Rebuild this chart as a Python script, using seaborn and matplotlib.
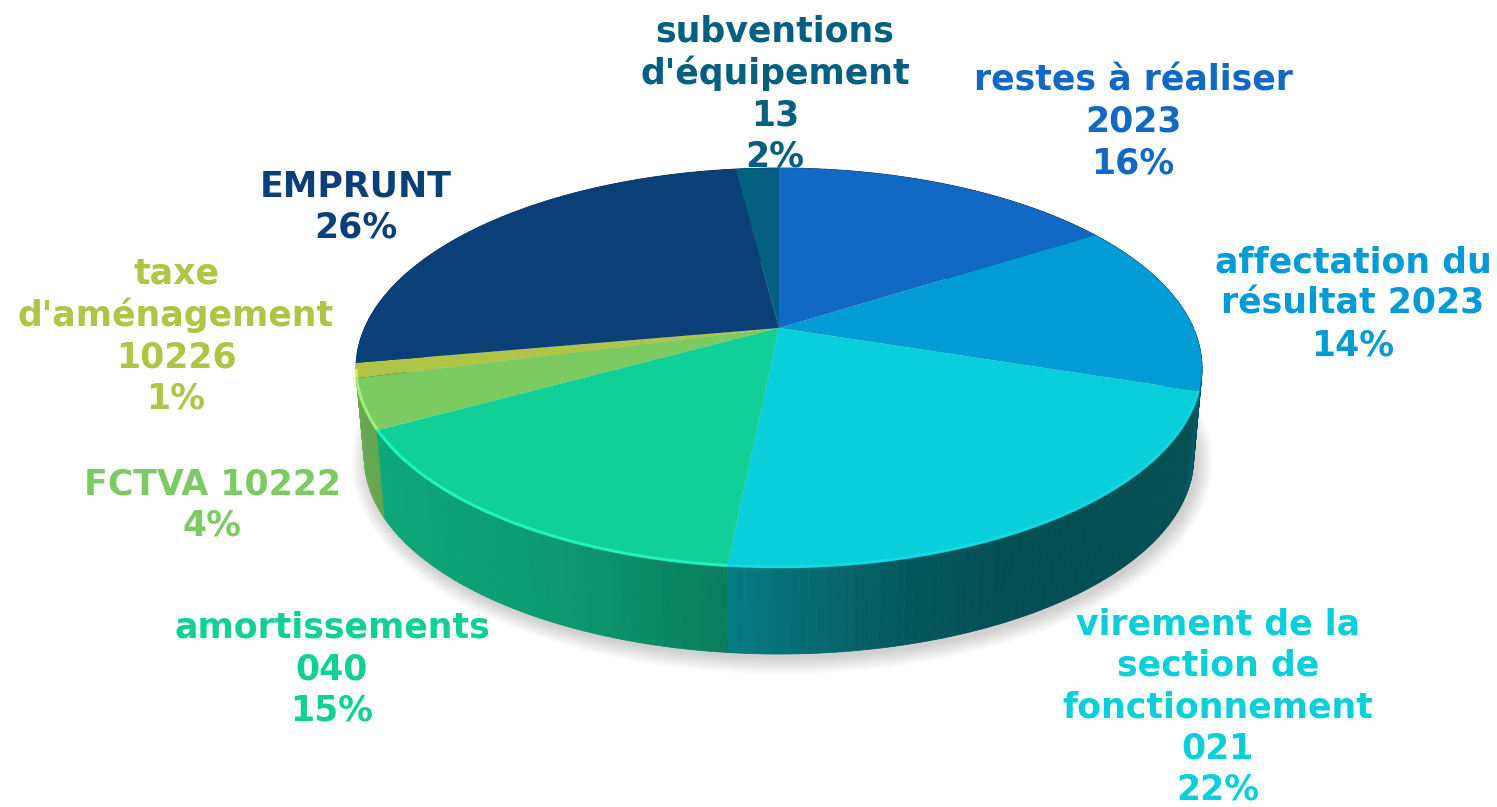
"""
Recettes d'investissement: camembert en perspective
"""

import numpy as np
import matplotlib
matplotlib.use("Agg")
import matplotlib.pyplot as plt
from matplotlib.transforms import Transform
from matplotlib.colors import to_rgb
import seaborn as sns

labels = [
    "restes à réaliser\n2023\n16%",
    "affectation du\nrésultat 2023\n14%",
    "virement de la\nsection de\nfonctionnement\n021\n22%",
    "amortissements\n040\n15%",
    "FCTVA 10222\n4%",
    "taxe\nd'aménagement\n10226\n1%",
    "EMPRUNT\n26%",
    "subventions\nd'équipement\n13\n2%",
]
shares = [16.0, 14.0, 21.6, 15.4, 4.0, 1.2, 25.8, 2.0]
hex_colors = ["#1269C4", "#029BD6", "#0ACFDB", "#10D097",
              "#7BCB62", "#B0C445", "#0A3F78", "#045F80"]
label_centers = [(1133, 122), (1353, 304), (1218, 707), (332, 669),
                 (212, 505), (176, 336), (356, 207), (775, 94)]
bevel_alpha = [0, 0, 0.3, 0.8, 0.8, 0.8, 0, 0]

# geometry of the disc, in pixels of the picture
CX, CY = 779, 328
RADIUS_X, RADIUS_Y, TILT = 414.5, 192, 0.2
ELLIPSE_CY = 368
BOTTOM_SHIFT, BOTTOM_SCALE = 90, 0.98


class DiscPerspective(Transform):
    """Maps the unit disc of the pie to the tilted disc of the picture."""
    input_dims = 2
    output_dims = 2

    def transform_non_affine(self, values):
        values = np.asarray(values)
        w = 1 + TILT * values[:, 1]
        return np.column_stack([CX + RADIUS_X * values[:, 0] / w,
                                CY - RADIUS_Y * values[:, 1] / w])


def rim(theta):
    """Points of the top rim for angles in degrees."""
    t = np.radians(theta)
    return DiscPerspective().transform_non_affine(np.column_stack([np.cos(t), np.sin(t)]))


def floor_of(points):
    """Same points moved down to the bottom face of the disc."""
    x = CX + (points[:, 0] - CX) * BOTTOM_SCALE
    y = ELLIPSE_CY + (points[:, 1] - ELLIPSE_CY) * BOTTOM_SCALE + BOTTOM_SHIFT
    return np.column_stack([x, y])


sns.set_theme(style="white")
plt.rcParams['font.family'] = ['DejaVu Sans']
palette = sns.color_palette(hex_colors)

fig = plt.figure(figsize=(14.97, 8.07), dpi=100)
ax = fig.add_axes([0, 0, 1, 1])

wedges, _ = ax.pie(shares, colors=palette, startangle=90, counterclock=False,
                   radius=1, center=(0, 0), frame=False)
for wedge in wedges:
    wedge.set_transform(DiscPerspective() + ax.transData)
    wedge.set_zorder(5)
    wedge.set_linewidth(0)

ax.set_aspect("auto")
ax.set_xlim(0, 1497)
ax.set_ylim(807, 0)
ax.axis("off")

# soft shadow under the disc
all_round = floor_of(rim(np.linspace(0, 360, 361)))
for grow in np.linspace(16, 0, 12):
    sx = CX + 3 + (all_round[:, 0] - CX) * (1 + grow / 415)
    sy = ELLIPSE_CY + BOTTOM_SHIFT + 4 + (all_round[:, 1] - ELLIPSE_CY - BOTTOM_SHIFT) * (1 + grow / 195)
    ax.fill(sx, sy, color="#555555", alpha=0.024, lw=0, zorder=1)

# labels stay behind the disc
for text, (lx, ly), color in zip(labels, label_centers, palette):
    ax.text(lx, ly, text, color=color, fontsize=25, fontweight="bold", ha="center",
            va="center", multialignment="center", linespacing=1.27, zorder=2)

# side of the disc, shaded in narrow strips, back strips first
shade_x = [360, 388, 560, 725, 900, 1000, 1190, 1203]
shade_k = [0.84, 0.80, 0.74, 0.60, 0.43, 0.38, 0.38, 0.50]
for wedge, color, bevel in zip(wedges, palette, bevel_alpha):
    theta = np.arange(wedge.theta1, wedge.theta2 + 1, 1.0)
    theta[-1] = wedge.theta2
    top = rim(theta)
    low = floor_of(top)
    for i in range(len(theta) - 1):
        k = np.interp((top[i, 0] + top[i + 1, 0]) / 2, shade_x, shade_k)
        strip = tuple(np.array(to_rgb(color)) * k)
        ax.fill([top[i, 0], top[i + 1, 0], low[i + 1, 0], low[i, 0]],
                [top[i, 1], top[i + 1, 1], low[i + 1, 1], low[i, 1]],
                color=strip, lw=0.6, zorder=3 + top[i, 1] / 1000)

    # light bevel along the front of the rim
    front = theta[top[:, 1] > 368]
    if len(front) > 1 and bevel > 0:
        edge = rim(front)
        lighter = tuple(np.minimum(np.array(to_rgb(color)) * 1.2 + 0.06, 1))
        ax.plot(edge[:, 0], edge[:, 1] - 1, color=lighter, lw=2.2, alpha=bevel,
                solid_capstyle="butt", zorder=6)

fig.savefig("out.png", dpi=100)
